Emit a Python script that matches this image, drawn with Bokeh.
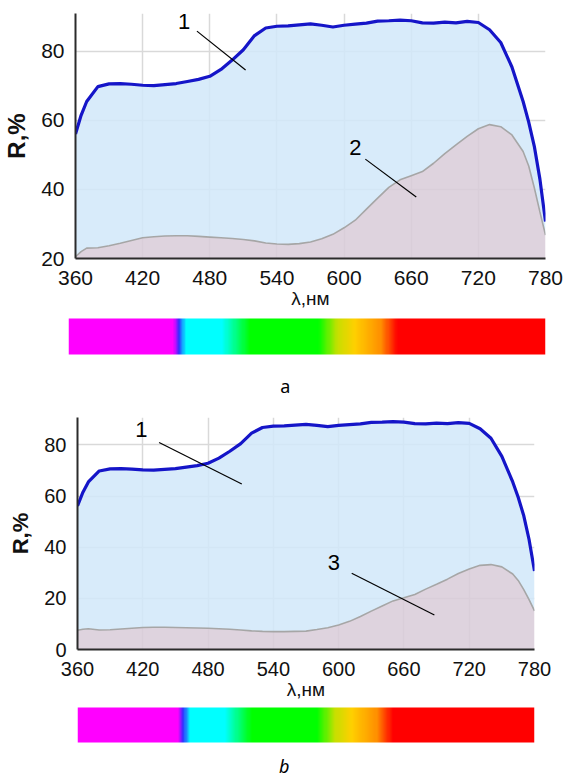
import numpy as np
from bokeh.plotting import figure
from bokeh.models import Range1d, FixedTicker, ColumnDataSource
from bokeh.core.properties import value
from bokeh.embed import file_html
from bokeh.resources import INLINE

# Wavelength grid, nm
wavelength = [360, 365, 370, 380, 390, 400, 410, 420, 430, 440, 450, 460, 470, 480,
              490, 500, 510, 520, 530, 540, 550, 560, 570, 580, 590, 600, 610, 620,
              630, 640, 650, 660, 670, 680, 690, 700, 710, 720, 730, 740, 750, 760,
              765, 770, 775, 780]

# Reflectance, %: curve 1 (reference white), curves 2 and 3 (samples)
refl_1 = [56.1, 61.5, 65.5, 69.8, 70.6, 70.7, 70.5, 70.2, 70.1, 70.4, 70.7, 71.3, 71.9, 72.8,
          74.8, 77.5, 80.5, 84.6, 86.8, 87.3, 87.4, 87.7, 88.0, 87.6, 87.1, 87.6, 87.9, 88.2,
          88.8, 88.9, 89.1, 88.9, 88.3, 88.2, 88.5, 88.3, 88.7, 88.4, 86.3, 82.6, 75.5, 65.5,
          59.5, 52.5, 43.0, 30.7]
refl_2 = [20.5, 22.0, 23.0, 23.1, 23.7, 24.4, 25.2, 26.0, 26.3, 26.5, 26.6, 26.6, 26.4, 26.2,
          26.0, 25.8, 25.5, 25.1, 24.5, 24.2, 24.1, 24.3, 24.8, 25.7, 27.0, 28.9, 31.1, 34.3,
          37.5, 40.6, 42.8, 44.0, 45.2, 47.6, 50.4, 52.9, 55.4, 57.6, 58.8, 58.2, 55.8, 51.0,
          46.8, 40.5, 33.5, 26.8]
refl_3 = [7.5, 7.9, 8.1, 7.6, 7.7, 8.0, 8.3, 8.6, 8.7, 8.7, 8.6, 8.5, 8.4, 8.3,
          8.1, 7.9, 7.6, 7.3, 7.1, 7.0, 7.0, 7.1, 7.2, 7.8, 8.5, 9.6, 11.0, 12.9,
          15.0, 17.0, 19.0, 20.2, 21.5, 23.6, 25.5, 27.5, 29.7, 31.5, 32.9, 33.2, 32.3, 29.5,
          27.0, 23.5, 19.5, 15.1]

x_ticks = [360, 420, 480, 540, 600, 660, 720, 780]
y_ticks_a = [20, 40, 60, 80]
y_ticks_b = [0, 20, 40, 60, 80]

# Colour stops of the visible-spectrum strip
spectrum_nm = [360, 452, 457, 463, 495, 520, 580, 597, 612, 635, 650, 780]
spectrum_hex = ["#ff00ff", "#ff00ff", "#3030ff", "#00ffff", "#00ffff", "#00ff00",
                "#00ff00", "#c8e000", "#ffd000", "#ff9000", "#ff0000", "#ff0000"]

FONT = "Liberation Sans"
BLUE = "#1515c8"
GREY = "#a6a6a6"
BLUE_FILL = "#d1e7f9"
PINK_FILL = "#d8cbd8"


def reflect_chart(sample, y0, y1, yticks, height, borders, tick_px, ylab_px, notes):
    left, right, top, bottom = borders
    p = figure(width=565, height=height, x_range=Range1d(360, 780), y_range=Range1d(y0, y1),
               output_backend="svg", toolbar_location=None, title=None,
               min_border_left=left, min_border_right=right,
               min_border_top=top, min_border_bottom=bottom)
    p.outline_line_color = None
    p.background_fill_color = "white"

    src = ColumnDataSource(dict(wl=wavelength, r1=refl_1, rs=sample))
    p.varea(x="wl", y1=y0, y2="rs", source=src, fill_color=PINK_FILL, fill_alpha=0.85)
    p.varea(x="wl", y1="rs", y2="r1", source=src, fill_color=BLUE_FILL, fill_alpha=0.85)
    p.line("wl", "rs", source=src, line_color=GREY, line_width=1.6)
    p.line("wl", "r1", source=src, line_color=BLUE, line_width=3.2)

    # curve numbers with leader lines
    tx, ty, tt, sx0, sy0, sx1, sy1 = notes
    p.text(x=tx, y=ty, text=tt, text_font=value(FONT), text_font_size="22px",
           text_align="center", text_baseline="middle", text_color="black")
    p.segment(x0=sx0, y0=sy0, x1=sx1, y1=sy1, line_color="black", line_width=1.2)

    p.xaxis.ticker = FixedTicker(ticks=x_ticks)
    p.yaxis.ticker = FixedTicker(ticks=yticks)
    for ax in (p.xaxis, p.yaxis):
        ax.major_tick_line_color = None
        ax.minor_tick_line_color = None
        ax.axis_line_color = "#2b2b2b"
        ax.axis_line_width = 2
        ax.major_label_text_font = FONT
        ax.major_label_text_font_size = f"{tick_px}px"
        ax.major_label_text_color = "#111111"
    p.xaxis.major_label_standoff = 6
    p.yaxis.major_label_standoff = 5
    p.xaxis.axis_label = "λ,нм"
    p.xaxis.axis_label_text_font = FONT
    p.xaxis.axis_label_text_font_size = "19px"
    p.xaxis.axis_label_text_font_style = "normal"
    p.xaxis.axis_label_text_color = "#111111"
    p.xaxis.axis_label_standoff = 0
    p.yaxis.axis_label = "R,%"
    p.yaxis.axis_label_text_font = FONT
    p.yaxis.axis_label_text_font_size = f"{ylab_px}px"
    p.yaxis.axis_label_text_font_style = "bold"
    p.yaxis.axis_label_text_color = "#111111"
    p.yaxis.axis_label_standoff = 8

    p.xgrid.ticker = FixedTicker(ticks=x_ticks)
    p.ygrid.ticker = FixedTicker(ticks=yticks)
    p.grid.grid_line_color = "#d9d9d9"
    p.grid.grid_line_width = 1.5
    return p


def spectrum_strip(height, left, right, bar_bottom, bar_h, label, label_x, label_y, italic):
    p = figure(width=565, height=height, x_range=Range1d(360, 780), y_range=Range1d(0, height),
               output_backend="svg", toolbar_location=None, title=None,
               min_border_left=left, min_border_right=right, min_border_top=0, min_border_bottom=0)
    p.axis.visible = False
    p.grid.visible = False
    p.outline_line_color = None

    nm = np.arange(360, 780.5, 1.0)
    rgb = np.array([[int(h[i:i + 2], 16) for i in (1, 3, 5)] for h in spectrum_hex], dtype=float)
    chans = [np.interp(nm, spectrum_nm, rgb[:, k]).astype(np.uint32) for k in range(3)]
    img = (255 << 24) | (chans[2] << 16) | (chans[1] << 8) | chans[0]
    img = img.astype(np.uint32).reshape(1, -1)
    p.image_rgba(image=[img], x=360, y=bar_bottom, dw=420, dh=bar_h)

    p.text(x=[label_x], y=[label_y], text=[label], text_font=value("Noto Sans"),
           text_font_size="18px", text_font_style="italic" if italic else "normal",
           text_align="center", text_baseline="middle", text_color="black")
    return p


chart_a = reflect_chart(refl_2, 20, 91, y_ticks_a, 312, (68, 20, 13, 54), 21, 24,
                        ([457, 610], [88.8, 52.2], ["1", "2"],
                         [468.5, 619], [85.9, 48.8], [512, 664.5], [74.6, 37.8]))
strip_a = spectrum_strip(88, 68, 20, 46, 36, "a", 551, 15, False)

chart_b = reflect_chart(refl_3, 0, 90.7, y_ticks_b, 302, (77, 31, 17, 53), 20, 22,
                        ([418.6, 595.7], [85.9, 34.1], ["1", "3"],
                         [435, 612], [80.9, 29.8], [511, 688], [64.7, 13.5]))
strip_b = spectrum_strip(75, 77, 31, 35, 35, "b", 550, 12, True)

# each panel is its own root, so their frames are laid out independently
html = file_html([chart_a, strip_a, chart_b, strip_b], INLINE)
with open("out.html", "w") as f:
    f.write(html)
